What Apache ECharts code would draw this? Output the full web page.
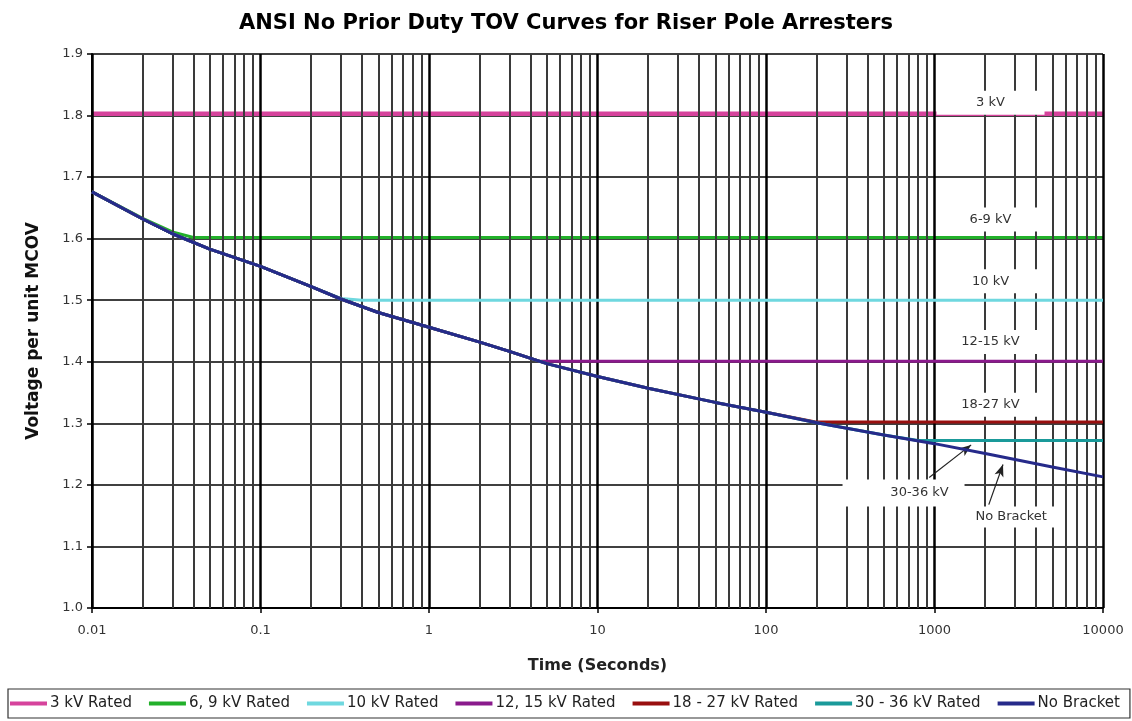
<!DOCTYPE html>
<html>
<head>
<meta charset="utf-8">
<script src="https://cdn.jsdelivr.net/npm/echarts@6/dist/echarts.min.js"></script>
<style>html,body{margin:0;padding:0;background:#fff}#c{width:1132px;height:721px}</style>
</head>
<body>
<div id="c"></div>
<script>
// ---- data ----
var titleText = 'ANSI No Prior Duty TOV Curves for Riser Pole Arresters';
var seriesNames = ['3 kV Rated', '6, 9 kV Rated', '10 kV Rated', '12, 15 kV Rated', '18 - 27 kV Rated', '30 - 36 kV Rated', 'No Bracket'];
var seriesColors = ['#d6439c', '#22b02a', '#6fd8df', '#8a1a8c', '#990f0f', '#1a9a9a', '#262a8a'];
var xTickLabels = [0.01, 0.1, 1, 10, 100, 1000, 10000];
var yTickLabels = [1.0, 1.1, 1.2, 1.3, 1.4, 1.5, 1.6, 1.7, 1.8, 1.9];

var noBracketTime  = [0.01, 0.02, 0.03, 0.05, 0.1, 0.2, 0.3, 0.5, 1, 2, 3, 5, 10, 20, 50, 100, 200, 500, 1000, 2000, 5000, 10000];
var noBracketValue = [1.676, 1.632, 1.608, 1.583, 1.555, 1.522, 1.502, 1.480, 1.456, 1.432, 1.417, 1.397, 1.376, 1.357, 1.334, 1.318, 1.301, 1.281, 1.267, 1.251, 1.229, 1.213];

var rated3    = [[0.01, 1.803], [10000, 1.803]];
var rated69   = [[0.01, 1.676], [0.02, 1.633], [0.03, 1.611], [0.04, 1.602], [0.06, 1.602], [10000, 1.602]];
var rated10   = [[0.01, 1.676], [0.02, 1.632], [0.03, 1.608], [0.05, 1.583], [0.1, 1.555], [0.2, 1.522], [0.3, 1.503], [0.4, 1.500], [10000, 1.500]];
var rated1215 = [[0.01, 1.676], [0.02, 1.632], [0.03, 1.608], [0.05, 1.583], [0.1, 1.555], [0.2, 1.522], [0.3, 1.502], [0.5, 1.480], [1, 1.456], [2, 1.432], [3, 1.417], [4.5, 1.401], [10000, 1.401]];
var rated1827 = [[0.01, 1.676], [0.02, 1.632], [0.03, 1.608], [0.05, 1.583], [0.1, 1.555], [0.2, 1.522], [0.3, 1.502], [0.5, 1.480], [1, 1.456], [2, 1.432], [3, 1.417], [5, 1.397], [10, 1.376], [20, 1.357], [50, 1.334], [100, 1.318], [200, 1.302], [10000, 1.302]];
var rated3036 = [[0.01, 1.676], [0.02, 1.632], [0.03, 1.608], [0.05, 1.583], [0.1, 1.555], [0.2, 1.522], [0.3, 1.502], [0.5, 1.480], [1, 1.456], [2, 1.432], [3, 1.417], [5, 1.397], [10, 1.376], [20, 1.357], [50, 1.334], [100, 1.318], [200, 1.301], [500, 1.281], [800, 1.272], [10000, 1.272]];

// annotation labels [time, value, text]
var boxLabels = [[2150, 1.821, '3 kV'], [2150, 1.631, '6-9 kV'], [2150, 1.531, '10 kV'], [2150, 1.432, '12-15 kV'], [2150, 1.330, '18-27 kV']];
var pointerLabels = [[655, 1.187, '30-36 kV'], [2850, 1.148, 'No Bracket']];
var arrows = [[[930, 1.212], [1650, 1.265]], [[2100, 1.168], [2550, 1.233]]];

// minor gridline positions (2..9 within each decade)
var minorGrid = [];
for (var d = 0; d < xTickLabels.length - 1; d++) {
  for (var m = 2; m <= 9; m++) minorGrid.push(Number((xTickLabels[d] * m).toPrecision(3)));
}

var chart = echarts.init(document.getElementById('c'));
var FONT = 'DejaVu Sans, Verdana, sans-serif';

function zipNB() { return noBracketTime.map(function (t, i) { return [t, noBracketValue[i]]; }); }
var ratedData = [rated3, rated69, rated10, rated1215, rated1827, rated3036, zipNB()];

var series = [];
series.push({
  type: 'line', data: [], silent: true, z: 1,
  markLine: {
    silent: true, symbol: ['none', 'none'], animation: false,
    label: { show: false },
    lineStyle: { color: '#3a3a3a', width: 2, type: 'solid' },
    data: minorGrid.map(function (v) { return { xAxis: v }; })
  }
});
series.push({
  type: 'line', data: [], silent: true, z: 1,
  markLine: {
    silent: true, symbol: ['none', 'none'], animation: false,
    label: { show: false },
    lineStyle: { color: '#000', width: 2.5, type: 'solid' },
    data: xTickLabels.map(function (v) { return { xAxis: v }; })
  }
});
seriesNames.forEach(function (n, i) {
  series.push({
    name: n, type: 'line', data: ratedData[i], showSymbol: false, smooth: false,
    z: 3 + i,
    lineStyle: { color: seriesColors[i], width: i === 0 ? 4.5 : 3 },
    itemStyle: { color: seriesColors[i] },
    animation: false
  });
});
series.push({
  type: 'line', data: [], silent: true, z: 20,
  markPoint: {
    symbol: 'rect', symbolSize: 1, itemStyle: { color: 'rgba(0,0,0,0)' }, animation: false,
    label: { show: true, position: 'inside', color: '#333', fontFamily: FONT, fontSize: 13,
      backgroundColor: '#fff', width: 108, align: 'center', padding: [6, 0, 5, 0] },
    data: boxLabels.map(function (b) { return { coord: [b[0], b[1]], value: b[2], label: { formatter: b[2] } }; })
      .concat(pointerLabels.map(function (b, i) {
        return { coord: [b[0], b[1]], value: b[2],
          label: i === 0
            ? { formatter: b[2], width: 90, padding: [7, 0, 7, 32] }
            : { formatter: b[2], width: 100, padding: [4, 0, 4, 0] } };
      }))
  },
  markLine: {
    silent: true, symbol: ['none', 'arrow'], symbolSize: [7, 12], animation: false,
    label: { show: false },
    lineStyle: { color: '#222', width: 1.2, type: 'solid' },
    data: arrows.map(function (a) { return [{ coord: a[0] }, { coord: a[1] }]; })
  }
});

chart.setOption({
  backgroundColor: '#fff',
  animation: false,
  title: {
    text: titleText, left: 'center', top: 8,
    textStyle: { fontFamily: FONT, fontSize: 21, fontWeight: 'bold', color: '#000' }
  },
  grid: { left: 92, right: 29, top: 54, bottom: 113, containLabel: false },
  legend: {
    bottom: 3, left: 8, icon: 'rect', itemWidth: 37, itemHeight: 4, itemGap: 17,
    borderColor: '#333', borderWidth: 1.2, padding: [7, 10, 7, 2],
    textStyle: { fontFamily: FONT, fontSize: 15, color: '#222', padding: [0, 0, 0, -2] },
    data: seriesNames
  },
  xAxis: {
    type: 'log', logBase: 10, min: 0.01, max: 10000, splitNumber: 6,
    name: 'Time (Seconds)', nameLocation: 'middle', nameGap: 50,
    nameTextStyle: { fontFamily: FONT, fontSize: 16, fontWeight: 'bold', color: '#222' },
    axisLine: { lineStyle: { color: '#000', width: 2 } },
    axisTick: { show: true, length: 5, lineStyle: { color: '#000', width: 1.5 } },
    axisLabel: { fontFamily: FONT, fontSize: 13, color: '#333', margin: 16,
      formatter: function (v) { return String(Number(v.toPrecision(3))); } },
    splitLine: { show: false }
  },
  yAxis: {
    type: 'value', min: 1.0, max: 1.9, interval: 0.1,
    name: 'Voltage per unit MCOV', nameLocation: 'middle', nameGap: 50,
    nameTextStyle: { fontFamily: FONT, fontSize: 17, fontWeight: 'bold', color: '#111' },
    axisLine: { show: true, lineStyle: { color: '#000', width: 2 } },
    axisTick: { show: true, length: 5, lineStyle: { color: '#000', width: 1.5 } },
    axisLabel: { fontFamily: FONT, fontSize: 13, color: '#333', margin: 9,
      formatter: function (v) { return v.toFixed(1); } },
    splitLine: { show: true, lineStyle: { color: '#000', width: 1.5 } }
  },
  series: series
});
</script>
</body>
</html>
